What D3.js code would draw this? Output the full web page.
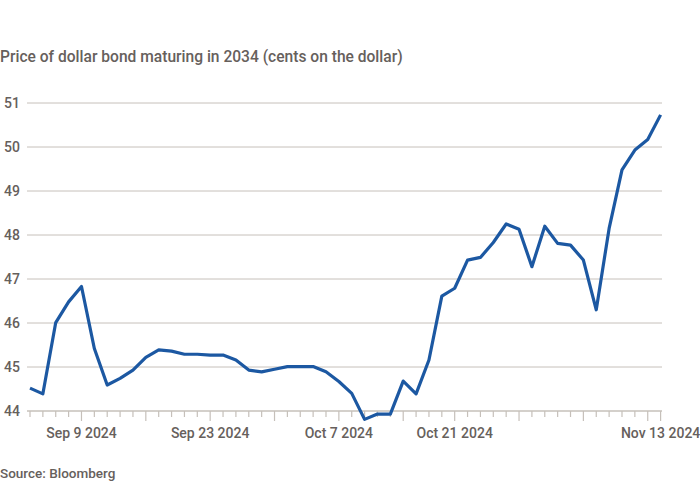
<!DOCTYPE html>
<html>
<head>
<meta charset="utf-8">
<script src="https://cdn.jsdelivr.net/npm/d3@7"></script>
<style>
  html, body { margin: 0; padding: 0; background: #ffffff; }
  svg { display: block; font-family: Roboto, "Noto Sans", sans-serif; }
</style>
</head>
<body>
<svg id="chart" width="700" height="500"></svg>
<script>
// Trading days (US bond market; Labor Day, Columbus Day, Veterans Day closed)
const dates = [
  "2024-09-03","2024-09-04","2024-09-05","2024-09-06",
  "2024-09-09","2024-09-10","2024-09-11","2024-09-12","2024-09-13",
  "2024-09-16","2024-09-17","2024-09-18","2024-09-19","2024-09-20",
  "2024-09-23","2024-09-24","2024-09-25","2024-09-26","2024-09-27",
  "2024-09-30","2024-10-01","2024-10-02","2024-10-03","2024-10-04",
  "2024-10-07","2024-10-08","2024-10-09","2024-10-10","2024-10-11",
  "2024-10-15","2024-10-16","2024-10-17","2024-10-18",
  "2024-10-21","2024-10-22","2024-10-23","2024-10-24","2024-10-25",
  "2024-10-28","2024-10-29","2024-10-30","2024-10-31","2024-11-01",
  "2024-11-04","2024-11-05","2024-11-06","2024-11-07","2024-11-08",
  "2024-11-12","2024-11-13"
];
const prices = [
  44.52, 44.39, 46.01, 46.48,
  46.83, 45.42, 44.59, 44.74, 44.93,
  45.22, 45.39, 45.36, 45.29, 45.29,
  45.27, 45.27, 45.16, 44.93, 44.89,
  44.95, 45.01, 45.01, 45.01, 44.89,
  44.67, 44.40, 43.81, 43.93, 43.93,
  44.68, 44.39, 45.16, 46.61,
  46.79, 47.43, 47.49, 47.83, 48.25,
  48.13, 47.28, 48.20, 47.81, 47.77,
  47.43, 46.30, 48.15, 49.48, 49.93,
  50.17, 50.73
];
const yTicks = [44, 45, 46, 47, 48, 49, 50, 51];
const labelledDates = ["2024-09-09", "2024-09-23", "2024-10-07", "2024-10-21", "2024-11-13"];
const labelTexts = ["Sep 9 2024", "Sep 23 2024", "Oct 7 2024", "Oct 21 2024", "Nov 13 2024"];
const titleText = "Price of dollar bond maturing in 2034 (cents on the dollar)";
const sourceText = "Source: Bloomberg";

const textColor = "#66605c";
const gridColor = "#c6c0ba";
const lineColor = "#1c58a2";

const svg = d3.select("#chart");

const x = d3.scalePoint().domain(dates).range([30, 660.6]);
const y = d3.scaleLinear().domain([44, 51]).range([411, 103]);

// Title
const title = svg.append("text")
  .attr("x", 0).attr("y", 62)
  .attr("fill", textColor)
  .style("font-size", "15px")
  .style("font-weight", 500)
  .text(titleText);
const tw = title.node().getComputedTextLength();
title.style("font-size", (15 * 403 / tw).toFixed(2) + "px");

// Gridlines
const gridG = svg.append("g");
gridG.selectAll("line").data(yTicks.filter(d => d !== 44)).join("line")
  .attr("x1", 27).attr("x2", 662)
  .attr("y1", d => y(d)).attr("y2", d => y(d))
  .attr("stroke", gridColor).attr("stroke-width", 1);

// Y labels
svg.append("g").selectAll("text").data(yTicks).join("text")
  .attr("x", 4).attr("y", d => y(d))
  .attr("dy", "0.36em")
  .attr("fill", textColor)
  .style("font-size", "14px")
  .style("font-weight", 500)
  .text(d => d);

// X axis baseline + ticks (long tick at first trading day of each week, and at the last day)
const isWeekStart = (d, i) => i === dates.length - 1 ||
  (i > 0 && (new Date(d) - new Date(dates[i - 1])) > 86400000 * 1.5);
const axisG = svg.append("g");
axisG.append("line")
  .attr("x1", 27).attr("x2", 662)
  .attr("y1", y(44)).attr("y2", y(44))
  .attr("stroke", gridColor).attr("stroke-width", 1.5);
axisG.selectAll("line.tick").data(dates).join("line")
  .attr("class", "tick")
  .attr("x1", d => x(d)).attr("x2", d => x(d))
  .attr("y1", y(44))
  .attr("y2", (d, i) => y(44) + (isWeekStart(d, i) ? 10 : 6))
  .attr("stroke", gridColor).attr("stroke-width", 1.2);

axisG.selectAll("text").data(labelledDates).join("text")
  .attr("x", d => x(d)).attr("y", 438)
  .attr("text-anchor", "middle")
  .attr("fill", textColor)
  .style("font-size", "14px")
  .style("font-weight", 500)
  .text((d, i) => labelTexts[i]);

// Line
const line = d3.line()
  .x((d, i) => x(dates[i]))
  .y(d => y(d));
svg.append("path")
  .datum(prices)
  .attr("d", line)
  .attr("fill", "none")
  .attr("stroke", lineColor)
  .attr("stroke-width", 3.2)
  .attr("stroke-linejoin", "round");

// Source
svg.append("text")
  .attr("x", 0).attr("y", 478)
  .attr("fill", textColor)
  .style("font-size", "13.5px")
  .style("font-weight", 500)
  .text(sourceText);
</script>
</body>
</html>
